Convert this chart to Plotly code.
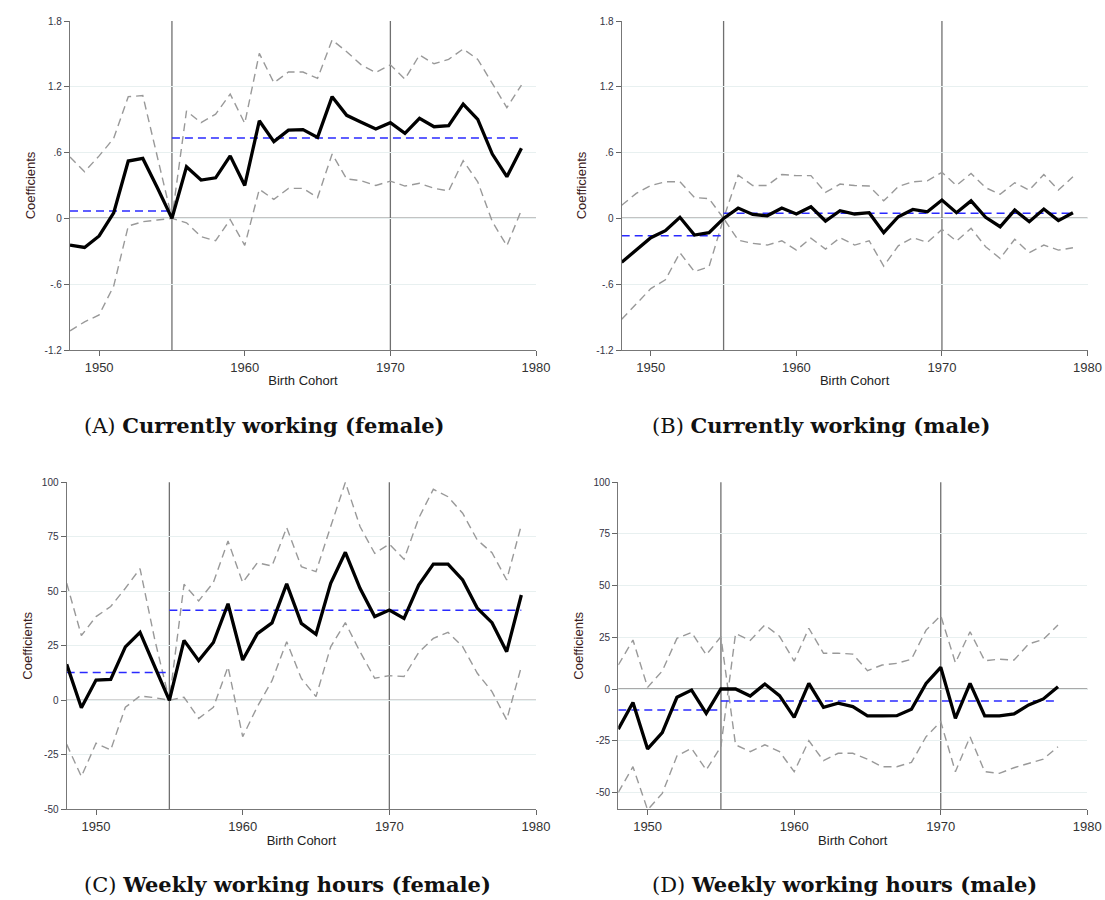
import plotly.graph_objects as go

# Birth cohorts
years = list(range(1948, 1980))
years_d = list(range(1948, 1979))
# panel D bounds carry two rows for the 1955 cohort
years_d_ci = list(range(1948, 1956)) + list(range(1955, 1979))

# (A) Currently working, female
coef_a = [-0.243, -0.265, -0.16, 0.05, 0.523, 0.547, 0.28, 0,
          0.47, 0.35, 0.37, 0.57, 0.30, 0.89, 0.70, 0.805,
          0.81, 0.739, 1.11, 0.94, 0.876, 0.815, 0.873, 0.775,
          0.912, 0.836, 0.845, 1.043, 0.903, 0.587, 0.38, 0.64]
upper_a = [0.56, 0.426, 0.57, 0.73, 1.11, 1.12, 0.56, 0,
           0.98, 0.873, 0.95, 1.134, 0.867, 1.505, 1.237, 1.335,
           1.335, 1.277, 1.627, 1.52, 1.40, 1.33, 1.40, 1.27,
           1.49, 1.41, 1.45, 1.545, 1.45, 1.225, 1.01, 1.216]
lower_a = [-1.025, -0.943, -0.88, -0.617, -0.07, -0.03, -0.015, 0,
           -0.04, -0.167, -0.204, -0.01, -0.246, 0.265, 0.173, 0.274,
           0.274, 0.19, 0.587, 0.36, 0.343, 0.30, 0.34, 0.295,
           0.32, 0.274, 0.25, 0.526, 0.334, -0.03, -0.25, 0.076]
means_a = [0.067, 0.733]

# (B) Currently working, male
coef_b = [-0.40, -0.283, -0.176, -0.112, 0.01, -0.152, -0.13, 0,
          0.094, 0.036, 0.024, 0.094, 0.04, 0.106, -0.024, 0.07,
          0.04, 0.052, -0.13, 0.015, 0.082, 0.06, 0.167, 0.052,
          0.16, 0.01, -0.076, 0.076, -0.03, 0.085, -0.02, 0.052]
upper_b = [0.12, 0.228, 0.30, 0.334, 0.334, 0.19, 0.18, 0,
           0.395, 0.30, 0.30, 0.40, 0.39, 0.39, 0.237, 0.313,
           0.30, 0.295, 0.16, 0.29, 0.334, 0.343, 0.42, 0.30,
           0.41, 0.28, 0.22, 0.325, 0.258, 0.40, 0.258, 0.38]
lower_b = [-0.92, -0.775, -0.64, -0.56, -0.313, -0.486, -0.44, 0,
           -0.198, -0.228, -0.243, -0.204, -0.289, -0.18, -0.28, -0.176,
           -0.243, -0.204, -0.435, -0.25, -0.176, -0.219, -0.10, -0.207,
           -0.09, -0.258, -0.365, -0.19, -0.313, -0.243, -0.289, -0.268]
means_b = [-0.158, 0.046]

# (C) Weekly working hours, female
coef_c = [16.5, -3.4, 9.3, 9.6, 24.5, 31.2, 15.5, 0,
          27.5, 18.2, 26.5, 44.3, 18.5, 30.6, 35.5, 53.4,
          35.3, 30.3, 53.7, 67.9, 51.4, 38.4, 41.4, 37.6,
          52.9, 62.5, 62.5, 55.2, 42.2, 35.6, 22.3, 48.3]
upper_c = [53.7, 29.7, 38.4, 43, 51.4, 60.4, 28, 0,
           53.2, 45.6, 54, 73.1, 54, 63.1, 61.6, 79.2,
           61.3, 59, 79.7, 100, 79.7, 67.4, 71.7, 64.7,
           83.5, 96.8, 93.4, 85.8, 73.5, 67.7, 55.2, 80.4]
lower_c = [-20.2, -35, -19.7, -22.8, -3.2, 2, 1.2, 0,
           1.4, -8.3, -3.2, 15.4, -16.7, -2.9, 9, 26.9,
           10, 1.7, 24.5, 35.6, 22.3, 10.1, 11.3, 10.9,
           21.9, 28.4, 31.2, 24.6, 12.4, 4, -9, 15.4]
means_c = [12.7, 41.3]

# (D) Weekly working hours, male
coef_d = [-19.4, -6.5, -29, -21.1, -4, -0.5, -11.8, 0,
          0, -3.4, 2.4, -3.2, -13.7, 2.7, -8.9, -6.9,
          -8.5, -13, -13, -12.9, -9.8, 2.7, 10.5, -14.2,
          2.7, -13, -13, -12.1, -7.7, -4.8, 1.1]
upper_d = [11.6, 23.7, 0.8, 8.7, 24.5, 27.4, 16.5, 25.3,
           -27.9, 26.8, 23.5, 31, 25.5, 13.5, 29.4, 17.3, 17.3,
           16.9, 8.9, 11.6, 12.4, 14.4, 28.5, 35.5, 12.7,
           27.7, 13.7, 14.4, 14, 21.8, 24, 31]
lower_d = [-50, -37.6, -58.5, -50.5, -32.4, -28.7, -39.2, -27.9,
           25.3, -27, -30.3, -27, -30.3, -40, -25, -34.7, -31.1,
           -31.1, -34, -37.6, -37.6, -35.5, -23.1, -15.8, -40,
           -23.1, -40, -40.8, -38.1, -36, -33.9, -27.9]
means_d = [-10.2, -5.8]

cutoff_year = 1955
marker_years = [1955, 1970]

y_ticks_share = [-1.2, -0.6, 0, 0.6, 1.2, 1.8]
y_ticktext_share = ["-1.2", "-.6", "0", ".6", "1.2", "1.8"]
y_ticks_hours = [-50, -25, 0, 25, 50, 75, 100]
y_ticktext_hours = ["-50", "-25", "0", "25", "50", "75", "100"]
x_ticks = [1950, 1960, 1970, 1980]

captions = ["(A) <b>Currently working (female)</b>",
            "(B) <b>Currently working (male)</b>",
            "(C) <b>Weekly working hours (female)</b>",
            "(D) <b>Weekly working hours (male)</b>"]

W, H = 1105, 900

panels = [
    dict(x=years, xci=years, coef=coef_a, up=upper_a, lo=lower_a, means=means_a,
         box=(70, 536, 21, 350), yr=[-1.2, 1.8], tv=y_ticks_share, tt=y_ticktext_share,
         zero="#111111", cap=(82, 425)),
    dict(x=years, xci=years, coef=coef_b, up=upper_b, lo=lower_b, means=means_b,
         box=(621.7, 1087.5, 21, 350), yr=[-1.2, 1.8], tv=y_ticks_share, tt=y_ticktext_share,
         zero="#111111", cap=(650, 425)),
    dict(x=years, xci=years, coef=coef_c, up=upper_c, lo=lower_c, means=means_c,
         box=(66.7, 536, 482.3, 809.3), yr=[-50, 100], tv=y_ticks_hours, tt=y_ticktext_hours,
         zero="#555555", cap=(82, 884)),
    dict(x=years_d, xci=years_d_ci, coef=coef_d, up=upper_d, lo=lower_d, means=means_d,
         box=(618.3, 1087.3, 482.3, 809.3), yr=[-58.2, 100], tv=y_ticks_hours, tt=y_ticktext_hours,
         zero="#555555", cap=(650, 884)),
]

fig = go.Figure()
shapes = []
annotations = []

for i, p in enumerate(panels, start=1):
    sfx = "" if i == 1 else str(i)
    xa, ya = "x" + sfx, "y" + sfx
    x0, x1, y0, y1 = p["box"]

    fig.layout["xaxis" + sfx] = dict(
        domain=[x0 / W, x1 / W], anchor=ya, range=[1948, 1980], automargin=False,
        tickvals=x_ticks, ticks="outside", ticklen=5, tickcolor="#666666",
        showline=True, linecolor="#777777", linewidth=1.3, showgrid=False,
        zeroline=False, tickfont=dict(family="Arial, Liberation Sans", size=13, color="#333333"),
        title=dict(text="Birth Cohort", standoff=2,
                   font=dict(family="Arial, Liberation Sans", size=13, color="#222222")),
    )
    fig.layout["yaxis" + sfx] = dict(
        domain=[1 - y1 / H, 1 - y0 / H], anchor=xa, range=p["yr"], automargin=False,
        tickvals=p["tv"], ticktext=p["tt"], ticks="outside", ticklen=5, tickcolor="#666666",
        showline=True, linecolor="#777777", linewidth=1.3,
        showgrid=True, gridcolor="#e8f0f0", gridwidth=1, zeroline=False,
        tickfont=dict(family="Arial, Liberation Sans", size=10, color="#333344"),
        title=dict(text="Coefficients", standoff=6,
                   font=dict(family="Arial, Liberation Sans", size=13, color="#3a2020")),
    )

    # zero reference line
    shapes.append(dict(type="line", xref=xa + " domain", yref=ya, x0=0, x1=1, y0=0, y1=0,
                       line=dict(color=p["zero"], width=1.2), layer="below"))
    # vertical cohort markers
    for yr in marker_years:
        shapes.append(dict(type="line", xref=xa, yref=ya + " domain", x0=yr, x1=yr, y0=0, y1=1,
                           line=dict(color="#707070", width=1.3), layer="below"))

    # confidence bounds
    for band in (p["up"], p["lo"]):
        fig.add_trace(go.Scatter(x=p["xci"], y=band, mode="lines", xaxis=xa, yaxis=ya,
                                 line=dict(color="#999999", width=1.4, dash="8px,5px"),
                                 showlegend=False, hoverinfo="skip"))
    # pre / post period means
    pre_x = [p["x"][0], cutoff_year]
    post_x = [cutoff_year, p["x"][-1]]
    fig.add_trace(go.Scatter(x=pre_x, y=[p["means"][0]] * 2, mode="lines", xaxis=xa, yaxis=ya,
                             line=dict(color="#2a2aff", width=1.5, dash="8px,5px"),
                             showlegend=False))
    fig.add_trace(go.Scatter(x=post_x, y=[p["means"][1]] * 2, mode="lines", xaxis=xa, yaxis=ya,
                             line=dict(color="#2a2aff", width=1.5, dash="8px,5px"),
                             showlegend=False))
    # cohort coefficients
    fig.add_trace(go.Scatter(x=p["x"], y=p["coef"], mode="lines", xaxis=xa, yaxis=ya,
                             line=dict(color="#000000", width=3.3),
                             showlegend=False))

    cx, cy = p["cap"]
    annotations.append(dict(text=captions[i - 1], xref="paper", yref="paper",
                            x=cx / W, y=1 - cy / H, xanchor="left", yanchor="middle",
                            showarrow=False,
                            font=dict(family="DejaVu Serif", size=21, color="#111111")))

fig.update_layout(
    width=W, height=H, margin=dict(l=0, r=0, t=0, b=0, autoexpand=False),
    paper_bgcolor="white", plot_bgcolor="white",
    shapes=shapes, annotations=annotations, showlegend=False,
)

fig.write_html("out.html")
